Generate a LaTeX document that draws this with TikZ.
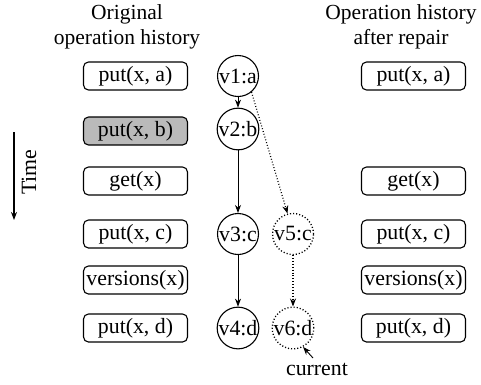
\documentclass[tikz,border=0pt]{standalone}
\usepackage{fontspec}
\setmainfont{Liberation Serif}
\usetikzlibrary{arrows.meta}
\begin{document}
\begin{tikzpicture}[x=1pt,y=-1pt,
  every node/.style={font=\fontsize{21.8}{25}\selectfont},
  opbox/.style={draw,line width=1.1pt,rounded corners=5pt,minimum width=104pt,minimum height=28pt,inner sep=0pt},
  ver/.style={draw,circle,line width=1.1pt,minimum size=41pt,inner sep=0pt},
  verd/.style={ver,dotted,line width=1.3pt},
  arr/.style={-{Stealth[length=8pt,width=6pt]},line width=0.9pt},
  darr/.style={arr,dotted,line width=1.2pt}]
\useasboundingbox (0,0) rectangle (481,384);
% headers
\node[align=center,font=\fontsize{21.5}{25}\selectfont] (h1) at (127,27) {Original\\operation history};
\node[align=center,font=\fontsize{21.5}{25}\selectfont] (h2) at (401,27) {Operation history\\after repair};
% left boxes
\node[opbox] (a1) at (135.5,76) {put(x, a)};
\node[opbox,fill=black!27] (a2) at (135.5,131) {put(x, b)};
\node[opbox] (a3) at (135.5,181) {get(x)};
\node[opbox] (a4) at (135.5,234) {put(x, c)};
\node[opbox] (a5) at (135.5,280) {versions(x)};
\node[opbox] (a6) at (135.5,328) {put(x, d)};
% right boxes
\node[opbox] (b1) at (413.5,76) {put(x, a)};
\node[opbox] (b3) at (413.5,181) {get(x)};
\node[opbox] (b4) at (413.5,234) {put(x, c)};
\node[opbox] (b5) at (413.5,280) {versions(x)};
\node[opbox] (b6) at (413.5,328) {put(x, d)};
% versions
\node[ver] (v1) at (238,76) {v1:a};
\node[ver] (v2) at (238,129) {v2:b};
\node[ver] (v3) at (238,234) {v3:c};
\node[ver] (v4) at (238,328) {v4:d};
\node[verd] (v5) at (293,234) {v5:c};
\node[verd] (v6) at (293,328) {v6:d};
\draw[arr] (v1) -- (v2);
\draw[arr] (v2) -- (v3);
\draw[arr] (v3) -- (v4);
\draw[darr] (v1.-50) -- (v5.105);
\draw[darr] (v5) -- (v6);
% current
\node (cur) at (317,369) {current};
\coordinate (cs) at (313,358);
\draw[arr] (cs) -- (v6.-62);
% time
\coordinate (t1) at (14,132);
\coordinate (t2) at (14,220);
\draw[arr,line width=1.3pt] (t1) -- (t2);
\node[rotate=90] (time) at (29,172) {Time};
\end{tikzpicture}
\end{document}
